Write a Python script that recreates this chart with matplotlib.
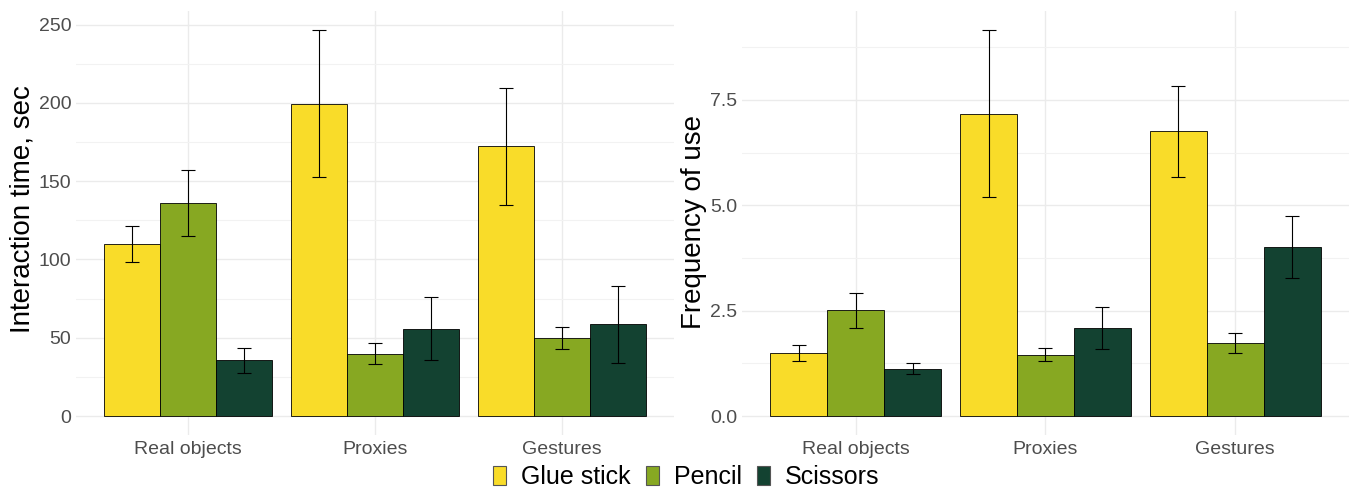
import numpy as np
import matplotlib
matplotlib.use("Agg")
import matplotlib.pyplot as plt
from matplotlib.patches import Patch

plt.rcParams['font.family'] = ['Liberation Sans', 'DejaVu Sans']

# Data
conditions = ["Real objects", "Proxies", "Gestures"]
tools = ["Glue stick", "Pencil", "Scissors"]
colors = ["#F9DC29", "#87A822", "#134231"]

time_mean = {
    "Glue stick": [110.1, 199.5, 172.3],
    "Pencil": [136.2, 39.9, 49.9],
    "Scissors": [35.7, 55.8, 58.6],
}
time_low = {
    "Glue stick": [98.7, 152.6, 135.0],
    "Pencil": [114.8, 33.5, 42.7],
    "Scissors": [27.2, 35.7, 34.0],
}
time_high = {
    "Glue stick": [121.6, 246.4, 209.7],
    "Pencil": [157.3, 46.7, 57.1],
    "Scissors": [43.7, 76.0, 83.2],
}

freq_mean = {
    "Glue stick": [1.505, 7.17, 6.75],
    "Pencil": [2.506, 1.45, 1.73],
    "Scissors": [1.127, 2.09, 4.00],
}
freq_low = {
    "Glue stick": [1.316, 5.19, 5.68],
    "Pencil": [2.08, 1.30, 1.50],
    "Scissors": [1.00, 1.58, 3.27],
}
freq_high = {
    "Glue stick": [1.69, 9.15, 7.83],
    "Pencil": [2.93, 1.615, 1.97],
    "Scissors": [1.26, 2.59, 4.74],
}

fig = plt.figure(figsize=(13.51, 4.93), dpi=100)
ax1 = fig.add_axes([0.0563, 0.117, 0.4426, 0.8607])
ax2 = fig.add_axes([0.5492, 0.117, 0.4493, 0.8607])


def draw_panel(ax, means, lows, highs, ylabel, yticks, yminor, ticklabels,
               label_x, label_y):
    x = np.arange(1, len(conditions) + 1)
    w = 0.3
    top = max(max(v) for v in highs.values())
    for i, t in enumerate(tools):
        xi = x + (i - 1) * w
        ax.bar(xi, means[t], width=w, color=colors[i], edgecolor="black",
               linewidth=0.6, zorder=3)
        m = np.array(means[t])
        lo = m - np.array(lows[t])
        hi = np.array(highs[t]) - m
        ax.errorbar(xi, m, yerr=[lo, hi], fmt="none", ecolor="black",
                    elinewidth=0.8, capsize=5, capthick=0.8, zorder=4)
    ax.set_xlim(0.4, 3.6)
    ax.set_ylim(-0.05 * top, 1.05 * top)
    ax.set_xticks(x)
    ax.set_xticklabels(conditions)
    ax.set_yticks(yticks)
    ax.set_yticklabels(ticklabels)
    ax.set_yticks(yminor, minor=True)
    ax.grid(True, which="major", color="#EBEBEB", linewidth=1.0, zorder=0)
    ax.grid(True, which="minor", axis="y", color="#F2F2F2", linewidth=0.8, zorder=0)
    ax.tick_params(axis="both", which="both", length=0, labelsize=14,
                   labelcolor="#4D4D4D")
    ax.tick_params(axis="x", pad=4)
    ax.tick_params(axis="y", pad=3.5)
    for s in ax.spines.values():
        s.set_visible(False)
    ax.set_axisbelow(True)
    # y label placed in figure pixels to match the reference
    fig.text(label_x / 1351, 1 - label_y / 493, ylabel, rotation=90,
             ha="center", va="center", fontsize=20, color="black")


draw_panel(ax1, time_mean, time_low, time_high, "Interaction time, sec",
           [0, 50, 100, 150, 200, 250], [25, 75, 125, 175, 225],
           ["0", "50", "100", "150", "200", "250"], 23, 209)
draw_panel(ax2, freq_mean, freq_low, freq_high, "Frequency of use",
           [0, 2.5, 5.0, 7.5], [1.25, 3.75, 6.25, 8.75],
           ["0.0", "2.5", "5.0", "7.5"], 694, 222)

handles = [Patch(facecolor=c, edgecolor="#555555", linewidth=0.8) for c in colors]
fig.legend(handles, tools, loc="center", bbox_to_anchor=(0.5078, 0.032),
           ncol=3, frameon=False, fontsize=18, handlelength=0.52, handleheight=0.84,
           handletextpad=0.6, columnspacing=0.6, borderpad=0.1)

fig.savefig("out.png", dpi=100)
